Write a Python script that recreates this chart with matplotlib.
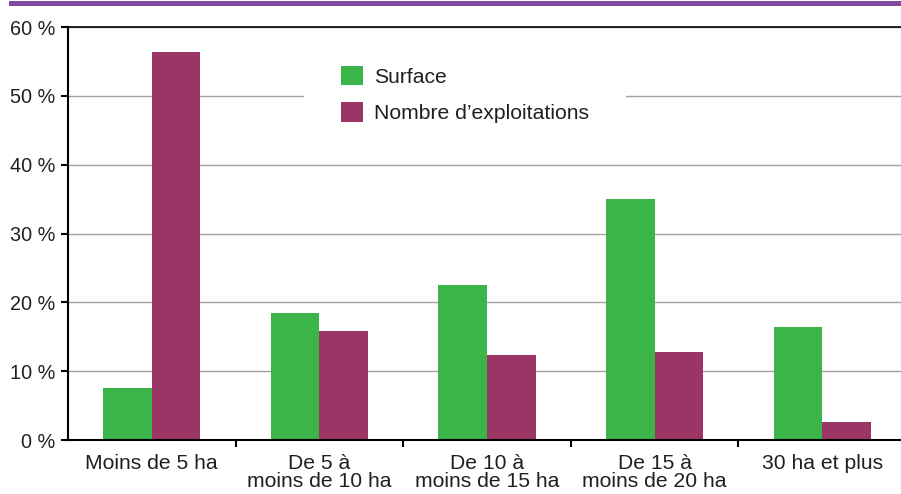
import matplotlib.pyplot as plt
import matplotlib.patches as mpatches
import numpy as np

plt.rcParams['font.family'] = ['Liberation Sans', 'DejaVu Sans']

# Data (percent)
categories = ["Moins de 5 ha", "De 5 à\nmoins de 10 ha", "De 10 à\nmoins de 15 ha",
              "De 15 à\nmoins de 20 ha", "30 ha et plus"]
surface = [7.5, 18.4, 22.5, 35.0, 16.4]
exploitations = [56.3, 15.8, 12.3, 12.8, 2.6]
y_ticks = [0, 10, 20, 30, 40, 50, 60]
y_labels = ["0 %", "10 %", "20 %", "30 %", "40 %", "50 %", "60 %"]

green = '#3bb54a'
purple = '#9b3565'
txt = '#231f20'
fs = 15.2

W, H = 901, 494
fig = plt.figure(figsize=(W / 100, H / 100), dpi=100)
ax = fig.add_axes([68 / W, 54 / H, (906 - 68) / W, 413 / H])

x = np.arange(len(categories))
w = 0.29
ax.bar(x - w / 2, surface, w, color=green, label='Surface', zorder=3)
ax.bar(x + w / 2, exploitations, w, color=purple, label='Nombre d\u2019exploitations', zorder=3)

ax.set_xlim(-0.5, len(categories) - 0.5)
ax.set_ylim(0, 60)
ax.set_yticks(y_ticks)
ax.set_yticklabels(y_labels, fontsize=14.3, color=txt)
ax.yaxis.grid(True, color='#a0a0a0', linewidth=1, zorder=0)
ax.set_axisbelow(True)

ax.set_xticks(x)
ax.set_xticklabels(categories, fontsize=fs, color=txt, linespacing=0.97)
ax.set_xticks(np.arange(0.5, len(categories) - 1, 1), minor=True)
ax.tick_params(axis='x', which='major', length=0, pad=10)
ax.tick_params(axis='x', which='minor', length=5, width=1.5, direction='out')
ax.tick_params(axis='y', length=5, width=1.5, direction='out', pad=4)

for s in ['left', 'bottom', 'top']:
    ax.spines[s].set_color('black')
    ax.spines[s].set_zorder(6)
ax.spines['left'].set_linewidth(1.5)
ax.spines['bottom'].set_linewidth(1.5)
ax.spines['top'].set_linewidth(1.2)
ax.spines['right'].set_visible(False)

leg = ax.legend(loc='upper left', bbox_to_anchor=(304 / W, 1 - 29 / H),
                bbox_transform=fig.transFigure, fontsize=fs,
                frameon=True, facecolor='white', edgecolor='none', framealpha=1,
                fancybox=False, borderpad=1.75, handlelength=1.04, handleheight=1.04,
                handletextpad=0.52, labelspacing=0.72, borderaxespad=0)
leg.set_zorder(4)
for t in leg.get_texts():
    t.set_color(txt)

# purple band across the top
fig.add_artist(mpatches.Rectangle((9 / W, 1 - 6 / H), 1 - 9 / W, 5 / H,
                                  transform=fig.transFigure, color='#7e4a9f',
                                  linewidth=0))

fig.savefig('out.png', dpi=100)
